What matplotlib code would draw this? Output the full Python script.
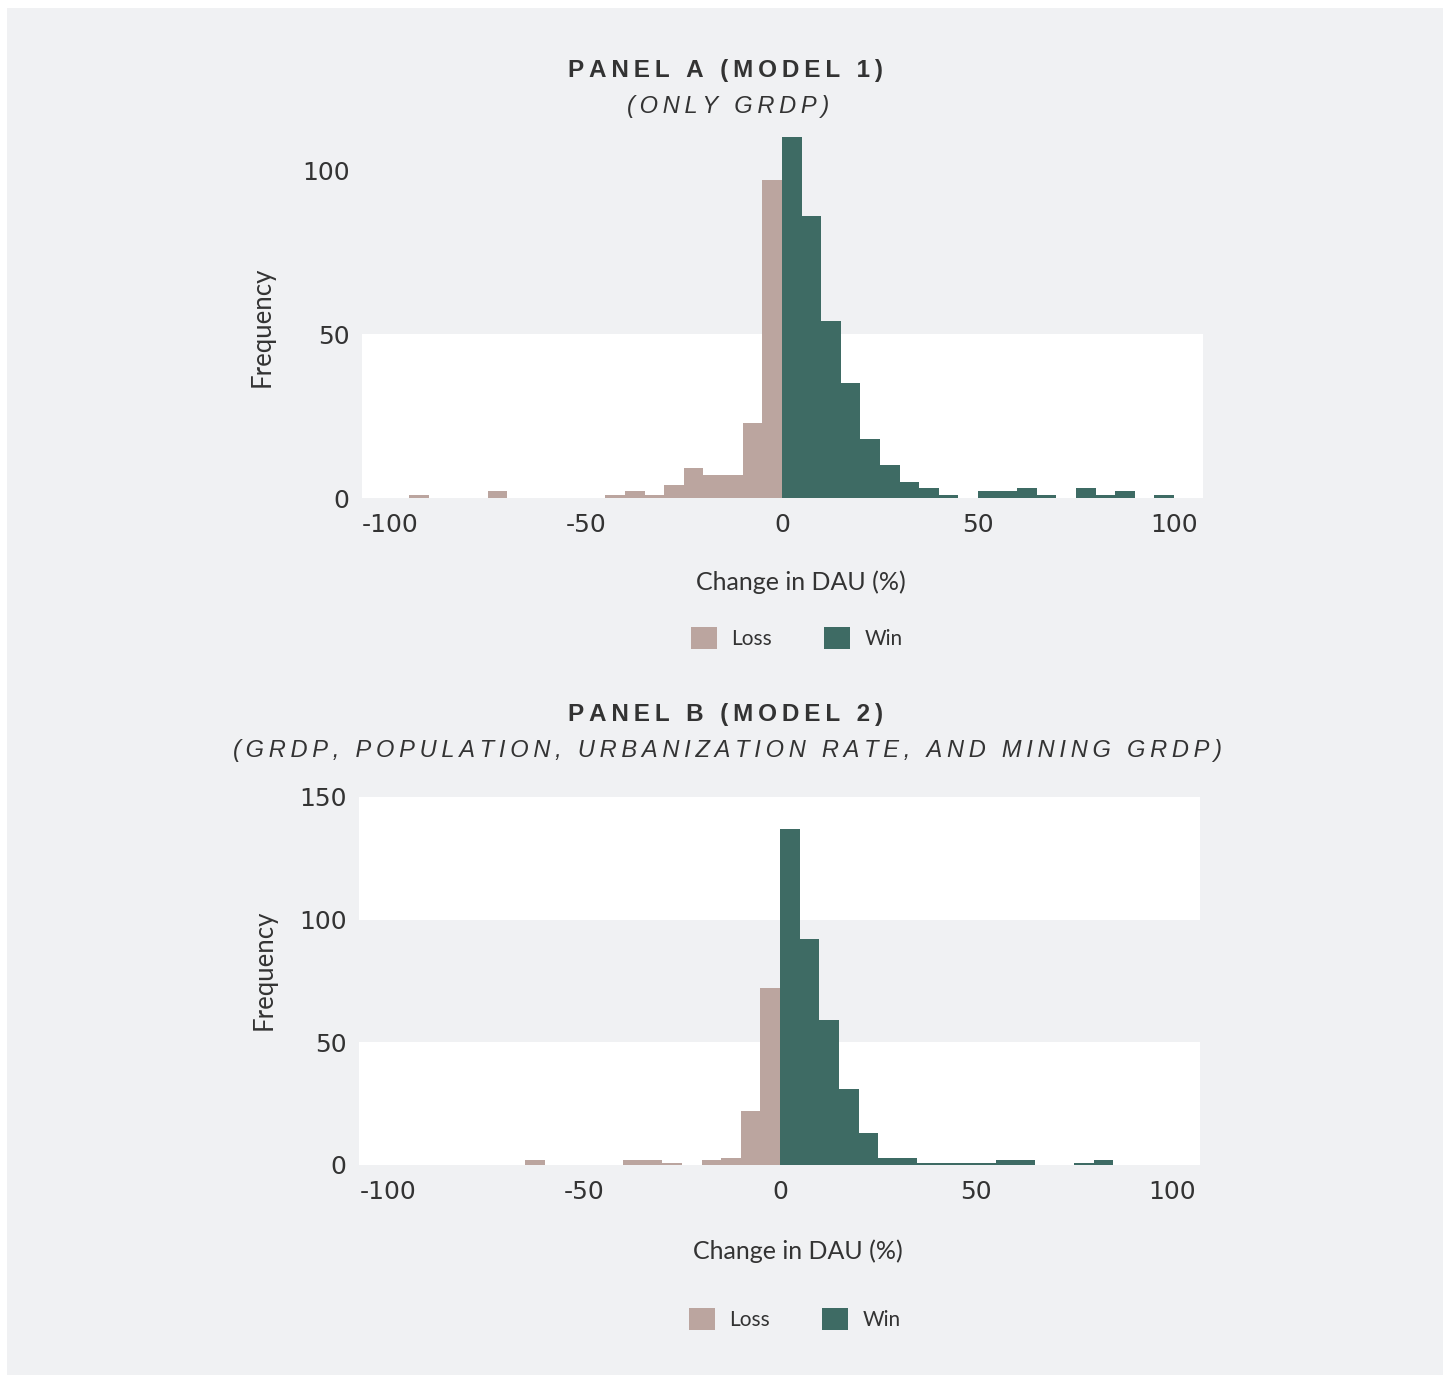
import matplotlib
matplotlib.use("Agg")
import matplotlib.pyplot as plt
import numpy as np
from matplotlib.patches import Rectangle, Patch

plt.rcParams["axes.unicode_minus"] = False

# ---------------- data ----------------
loss_left_edges = list(range(-100, 0, 5))   # bins -100..0, width 5
win_left_edges = list(range(0, 100, 5))     # bins 0..100, width 5
bin_width = 5

a_loss = [0, 1, 0, 0, 0, 2, 0, 0, 0, 0, 0, 1, 2, 1, 4, 9, 7, 7, 23, 97]
a_win = [110, 86, 54, 35, 18, 10, 5, 3, 1, 0, 2, 2, 3, 1, 0, 3, 1, 2, 0, 1]

b_loss = [0, 0, 0, 0, 0, 0, 0, 2, 0, 0, 0, 0, 2, 2, 1, 0, 2, 3, 22, 72]
b_win = [137, 92, 59, 31, 13, 3, 3, 1, 1, 1, 1, 2, 2, 0, 0, 1, 2, 0, 0, 0]

x_ticks = [-100, -50, 0, 50, 100]
a_yticks = [0, 50, 100]
b_yticks = [0, 50, 100, 150]

titles = ["PANEL A (MODEL 1)", "PANEL B (MODEL 2)"]
subtitles = ["(ONLY GRDP)", "(GRDP, POPULATION, URBANIZATION RATE, AND MINING GRDP)"]
legend_labels = ["Loss", "Win"]

# ---------------- style ----------------
BG = "#f0f1f3"
LOSS = "#bba59f"
WIN = "#3e6b64"
TXT = "#333333"
FONT = ["Lato", "DejaVu Sans"]
TICKFONT = ["DejaVu Sans"]
TFONT = ["Liberation Sans", "DejaVu Sans"]

W, H = 1450, 1376
fig = plt.figure(figsize=(W / 100, H / 100), dpi=100, facecolor="white")
fig.patches.append(Rectangle((7 / W, 1 - 1375 / H), 1436 / W, 1367 / H,
                             transform=fig.transFigure, facecolor=BG,
                             edgecolor="none", zorder=-10))


def spaced(s, n=1):
    sep = "\u2009" * n
    return sep.join(list(s))


def panel(rect, loss, win, ylim, yticks, xlim, bands, xl, yl, lg):
    ax = fig.add_axes(rect)
    ax.set_facecolor("none")
    for lo, hi in bands:
        ax.axhspan(lo, hi, color="white", zorder=0, lw=0)
    ax.bar(loss_left_edges, loss, width=bin_width, align="edge", color=LOSS,
           lw=0, clip_on=False, zorder=2, label=legend_labels[0])
    ax.bar(win_left_edges, win, width=bin_width, align="edge", color=WIN,
           lw=0, clip_on=False, zorder=2, label=legend_labels[1])
    ax.set_xlim(*xlim)
    ax.set_ylim(*ylim)
    ax.set_xticks(x_ticks)
    ax.set_yticks(yticks)
    for s in ax.spines.values():
        s.set_visible(False)
    ax.tick_params(length=0, labelsize=18, labelcolor=TXT)
    ax.tick_params(axis="x", pad=11)
    ax.tick_params(axis="y", pad=9)
    for lab in ax.get_xticklabels() + ax.get_yticklabels():
        lab.set_family(TICKFONT)
    ax.set_xlabel("Change in DAU (%)", fontsize=18, color=TXT, family=FONT)
    ax.xaxis.set_label_coords(*xl)
    ax.xaxis.label.set_va("center")
    ax.set_ylabel("Frequency", fontsize=18.5, color=TXT, family=FONT)
    ax.yaxis.set_label_coords(*yl)
    ax.yaxis.label.set_va("center")
    handles = [Patch(facecolor=LOSS, edgecolor="none"),
               Patch(facecolor=WIN, edgecolor="none")]
    leg = ax.legend(handles, legend_labels, loc="center", bbox_to_anchor=lg,
                    ncol=2, frameon=False, handlelength=1.25,
                    handleheight=1.25, handletextpad=0.7, columnspacing=2.5,
                    prop={"family": FONT, "size": 15})
    for t in leg.get_texts():
        t.set_color(TXT)
    return ax


axA = panel([362 / W, 1 - 498 / H, 841 / W, 328 / H], a_loss, a_win,
            (0, 100), a_yticks, (-107.1, 107.4), [(0, 50)],
            (0.522, -0.256), (-0.119, 0.521), (0.517, -0.427))
axB = panel([359 / W, 1 - 1165 / H, 841 / W, 368 / H], b_loss, b_win,
            (0, 150), b_yticks, (-107.4, 107.1), [(0, 50), (100, 150)],
            (0.522, -0.234), (-0.113, 0.53), (0.518, -0.418))

for ty, sy, t, s in [(70, 107, titles[0], subtitles[0]),
                     (714, 751, titles[1], subtitles[1])]:
    fig.text(726 / W, 1 - ty / H, spaced(t, 1), ha="center", va="center",
             fontsize=17.5, fontweight="bold", color=TXT, family=TFONT)
    fig.text(728 / W, 1 - sy / H, spaced(s, 1), ha="center", va="center",
             fontsize=17, style="italic", color=TXT, family=TFONT)

fig.savefig("out.png", dpi=100, facecolor=fig.get_facecolor())
